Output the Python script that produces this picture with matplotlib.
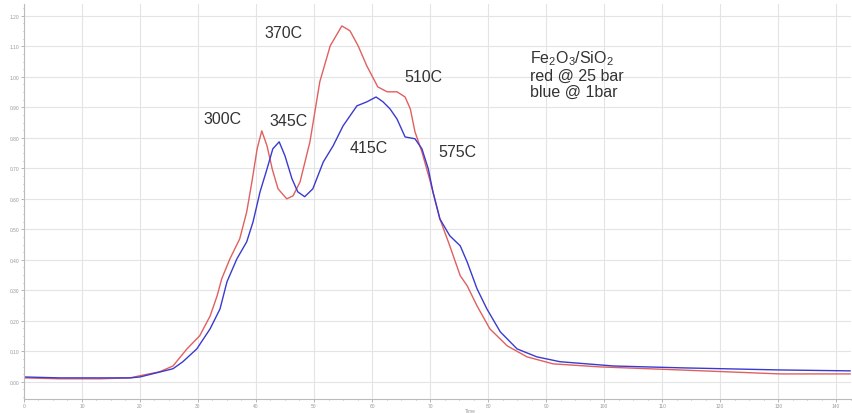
import matplotlib.pyplot as plt
from matplotlib.ticker import MultipleLocator, AutoMinorLocator

plt.rcParams['font.family'] = ['Liberation Sans', 'DejaVu Sans']
plt.rcParams['mathtext.fontset'] = 'custom'
plt.rcParams['mathtext.rm'] = 'Liberation Sans'
plt.rcParams['mathtext.it'] = 'Liberation Sans'

# red curve (25 bar)
red_x = [0.0, 6.2, 13.1, 18.3, 20.0, 23.4, 25.7, 28.1, 30.3, 32.1, 33.3, 34.1, 35.5,
         37.2, 38.4, 39.3, 40.2, 41.0, 41.9, 42.8, 43.8, 45.3, 46.4, 47.6, 49.3, 51.0,
         52.8, 54.8, 56.2, 57.6, 59.1, 61.0, 62.6, 64.3, 65.7, 66.6, 67.4, 68.6, 70.0,
         71.7, 73.4, 75.2, 76.4, 78.1, 80.3, 83.3, 86.7, 91.2, 99.3, 113.1, 130.3, 142.4]
red_y = [0.013, 0.010, 0.010, 0.013, 0.020, 0.033, 0.052, 0.108, 0.151, 0.216, 0.282,
         0.338, 0.403, 0.469, 0.557, 0.656, 0.764, 0.823, 0.774, 0.698, 0.633, 0.600,
         0.610, 0.656, 0.787, 0.984, 1.102, 1.167, 1.151, 1.102, 1.036, 0.967, 0.951,
         0.951, 0.934, 0.895, 0.820, 0.754, 0.659, 0.534, 0.446, 0.348, 0.315, 0.249,
         0.174, 0.118, 0.082, 0.059, 0.049, 0.039, 0.026, 0.026]

# blue curve (1 bar)
blue_x = [0.0, 6.2, 13.1, 18.3, 20.0, 25.7, 27.4, 29.8, 32.1, 33.8, 35.0, 36.7, 38.4,
          39.5, 40.7, 41.9, 42.9, 44.0, 45.0, 46.2, 47.2, 48.4, 49.8, 51.6, 53.3, 55.0,
          57.4, 59.1, 60.7, 61.9, 63.1, 64.3, 65.7, 67.4, 68.6, 69.7, 70.5, 71.7, 73.4,
          75.2, 76.4, 78.1, 79.8, 82.1, 85.0, 88.4, 92.4, 101.6, 113.1, 130.3, 142.4]
blue_y = [0.016, 0.013, 0.013, 0.013, 0.016, 0.043, 0.066, 0.108, 0.174, 0.239, 0.328,
          0.403, 0.459, 0.525, 0.623, 0.698, 0.764, 0.787, 0.741, 0.666, 0.623, 0.607,
          0.633, 0.721, 0.774, 0.839, 0.905, 0.918, 0.934, 0.918, 0.895, 0.862, 0.803,
          0.797, 0.764, 0.698, 0.623, 0.534, 0.479, 0.446, 0.393, 0.305, 0.239, 0.164,
          0.108, 0.082, 0.066, 0.052, 0.046, 0.039, 0.036]

peak_labels = ['300C', '345C', '370C', '415C', '510C', '575C']
peak_x = [34.3, 45.7, 44.8, 59.5, 68.8, 74.8]
peak_y = [0.862, 0.856, 1.144, 0.770, 1.000, 0.754]

fig = plt.figure(figsize=(8.53, 4.14), dpi=100)
ax = fig.add_axes([0.028, 0.034, 0.97, 0.954])

ax.plot(red_x, red_y, color='#e06060', lw=1.0)
ax.plot(blue_x, blue_y, color='#3a3ad0', lw=1.0)

for lab, x, y in zip(peak_labels, peak_x, peak_y):
    ax.text(x, y, lab, fontsize=11.5, color='#333333', ha='center', va='center')

ax.text(87.2, 1.095, 'Fe$_2$O$_3$/SiO$_2$\nred @ 25 bar\nblue @ 1bar',
        fontsize=11.5, color='#333333', ha='left', va='top', linespacing=1.1)

ax.set_xlim(0, 142.6)
ax.set_ylim(-0.056, 1.239)
ax.xaxis.set_major_locator(MultipleLocator(10))
ax.yaxis.set_major_locator(MultipleLocator(0.1))
ax.xaxis.set_minor_locator(AutoMinorLocator(4))
ax.yaxis.set_minor_locator(AutoMinorLocator(4))
ax.yaxis.set_major_formatter(plt.FormatStrFormatter('%.2f'))
ax.grid(True, which='major', color='#e4e4e4', lw=0.8)
ax.tick_params(which='both', labelsize=3.5, colors='#999999', length=2, width=0.5, pad=1)
ax.tick_params(which='minor', length=1)

for s in ['top', 'right']:
    ax.spines[s].set_visible(False)
for s in ['left', 'bottom']:
    ax.spines[s].set_color('#bbbbbb')

ax.set_xlabel('Time', fontsize=3.5, color='#999999', labelpad=0)
ax.xaxis.set_label_coords(0.54, -0.022)

fig.savefig('out.png', dpi=100)
